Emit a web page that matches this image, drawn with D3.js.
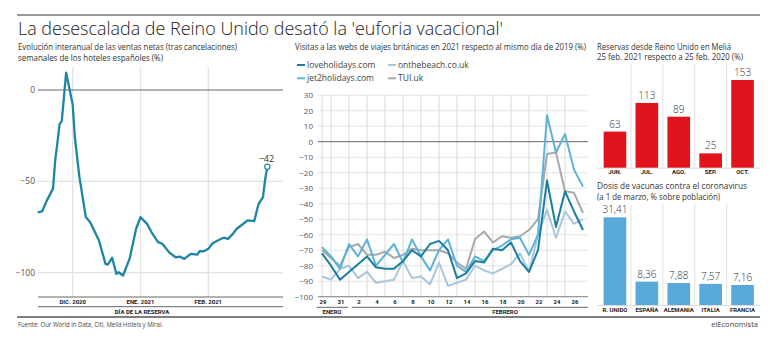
<!DOCTYPE html>
<html>
<head>
<meta charset="utf-8">
<script src="https://cdn.jsdelivr.net/npm/d3@7/dist/d3.min.js"></script>
<style>
body { margin: 0; background: #fff; }
text { font-family: "Open Sans", sans-serif; fill: #333; }
.tick-b { font-family: Roboto, sans-serif; font-weight: 700; font-size: 6px; fill: #222; }
</style>
</head>
<body>
<script>
// ---- data ----
var salesDates = ["2020-11-15","2020-11-17","2020-11-19","2020-11-22","2020-11-23","2020-11-24","2020-11-25","2020-11-26","2020-11-28",
    "2020-12-01","2020-12-02","2020-12-04","2020-12-07","2020-12-09","2020-12-13","2020-12-16","2020-12-17","2020-12-19","2020-12-21",
    "2020-12-22","2020-12-24","2020-12-27","2020-12-30","2021-01-01","2021-01-04","2021-01-06","2021-01-09","2021-01-11","2021-01-14",
    "2021-01-17","2021-01-19","2021-01-21","2021-01-24","2021-01-27","2021-01-28","2021-01-30","2021-02-01","2021-02-03","2021-02-06",
    "2021-02-08","2021-02-10","2021-02-12","2021-02-14","2021-02-16","2021-02-19","2021-02-22","2021-02-24","2021-02-26","2021-02-27","2021-02-28"];
var salesValues = [-67,-66.5,-61,-54,-38.5,-29,-18.7,-17,9.5,
    -8,-26,-47,-69.6,-72.4,-82.4,-95.2,-95.6,-91.9,-100.7,
    -99.8,-101.6,-92.5,-76,-69.6,-73.3,-77.8,-83.3,-84.2,-88.8,
    -91.6,-91.2,-92.5,-89.7,-90.1,-88.3,-88.3,-87,-83.9,-82,
    -80.9,-81.5,-79.1,-76,-74.2,-71.4,-71.8,-62.3,-58.6,-49,-42];
var salesMonths = ["2020-12-01","2021-01-01","2021-02-01"];
var salesMonthLabels = ["DIC. 2020","ENE. 2021","FEB. 2021"];
var salesTicks = [0,-50,-100];

var visitDays = ["2021-01-29","2021-01-30","2021-01-31","2021-02-01","2021-02-02","2021-02-03","2021-02-04","2021-02-05","2021-02-06","2021-02-07",
    "2021-02-08","2021-02-09","2021-02-10","2021-02-11","2021-02-12","2021-02-13","2021-02-14","2021-02-15","2021-02-16","2021-02-17",
    "2021-02-18","2021-02-19","2021-02-20","2021-02-21","2021-02-22","2021-02-23","2021-02-24","2021-02-25","2021-02-26","2021-02-27"];
var loveholidays = [-72,-80,-89,-84,-79,-74,-81,-82,-82,-77,-70,-74,-66,-64,-70,-88,-85,-77,-78,-69,-70,-65,-77,-84,-70,-25,-55,-32,-45,-57];
var jet2holidays = [-68,-74,-82,-66,-74,-63,-80,-73,-66,-78,-63,-74,-83,-70,-63,-80,-84,-74,-77,-70,-67,-63,-62,-73,-60,17,-7,5,-18,-29];
var onthebeach = [-87,-89,-82,-80,-88,-84,-91,-90,-89,-77,-88,-87,-92,-78,-93,-91,-89,-80,-83,-85,-82,-79,-72,-84,-60,-44,-62,-45,-53,-50];
var tui = [-70,-75,-80,-68,-66,-73,-73,-71,-75,-73,-69,-70,-70,-70,-72,-78,-82,-63,-58,-65,-61,-62,-61,-57,-50,-8,-7,-32,-33,-46];
var visitTickDays = ["2021-01-29","2021-01-31","2021-02-02","2021-02-04","2021-02-06","2021-02-08","2021-02-10","2021-02-12",
    "2021-02-14","2021-02-16","2021-02-18","2021-02-20","2021-02-22","2021-02-24","2021-02-26"];
var visitGridDays = ["2021-01-29","2021-01-30","2021-02-01","2021-02-03","2021-02-05","2021-02-07","2021-02-09","2021-02-11",
    "2021-02-13","2021-02-15","2021-02-17","2021-02-19","2021-02-21","2021-02-23","2021-02-25"];
var visitTicks = [30,20,10,0,-10,-20,-30,-40,-50,-60,-70,-80,-90,-100];

var reservasCats = ["JUN.","JUL.","AGO.","SEP.","OCT."];
var reservasValues = [63,113,89,25,153];
var vacunasCats = ["R. UNIDO","ESPAÑA","ALEMANIA","ITALIA","FRANCIA"];
var vacunasValues = [31.41,8.36,7.88,7.57,7.16];

var parse = d3.timeParse("%Y-%m-%d");
var minus = function (v) { return v < 0 ? "\u2212" + Math.abs(v) : String(v); };

var svg = d3.select("body").append("svg")
    .attr("width", 770)
    .attr("height", 343);

// ---- header / footer ----
svg.append("line").attr("x1", 17).attr("x2", 760).attr("y1", 15).attr("y2", 15)
    .attr("stroke", "#333").attr("stroke-width", 1);
svg.append("text").attr("x", 18).attr("y", 35)
    .attr("textLength", 485).attr("lengthAdjust", "spacingAndGlyphs")
    .style("font-size", "19px").style("font-weight", 300).style("fill", "#222")
    .text("La desescalada de Reino Unido desató la 'euforia vacacional'");

svg.append("line").attr("x1", 17).attr("x2", 760).attr("y1", 317).attr("y2", 317)
    .attr("stroke", "#555").attr("stroke-width", 1.3);
svg.append("text").attr("x", 18).attr("y", 326.5)
    .attr("textLength", 145).attr("lengthAdjust", "spacingAndGlyphs")
    .style("font-size", "7px").style("fill", "#444")
    .text("Fuente: Our World in Data, Citi, Meliá Hotels y Mirai.");
svg.append("text").attr("x", 758).attr("y", 326.5).attr("text-anchor", "end")
    .style("font-size", "7.5px").style("fill", "#444")
    .text("elEconomista");

function subtitle(x, y, txt, len) {
    svg.append("text").attr("x", x).attr("y", y)
        .attr("textLength", len).attr("lengthAdjust", "spacingAndGlyphs")
        .style("font-size", "8.2px").style("fill", "#333")
        .text(txt);
}

// ---- left chart ----
subtitle(18, 50, "Evolución interanual de las ventas netas (tras cancelaciones)", 219);
subtitle(18, 60.5, "semanales de los hoteles españoles (%)", 145);

var xL = d3.scaleTime().domain([parse("2020-12-01"), parse("2021-02-01")]).range([72.7, 208.3]);
var yL = d3.scaleLinear().domain([0, -100]).range([90, 272.6]);

var left = svg.append("g");
left.selectAll(".vg").data(salesMonths).enter().append("line")
    .attr("x1", function (d) { return xL(parse(d)); })
    .attr("x2", function (d) { return xL(parse(d)); })
    .attr("y1", 67).attr("y2", 297)
    .attr("stroke", "#e2e2e2").attr("stroke-width", 1.2);
left.selectAll(".hg").data(salesTicks).enter().append("line")
    .attr("x1", 38).attr("x2", 283)
    .attr("y1", function (d) { return yL(d); })
    .attr("y2", function (d) { return yL(d); })
    .attr("stroke", function (d) { return d === 0 ? "#666" : "#e2e2e2"; })
    .attr("stroke-width", function (d) { return d === 0 ? 1 : 1.2; });
left.selectAll(".yl").data(salesTicks).enter().append("text")
    .attr("x", 35).attr("y", function (d) { return yL(d); })
    .attr("dy", "0.35em").attr("text-anchor", "end")
    .style("font-size", "8.5px").style("fill", "#555")
    .text(minus);
left.append("line").attr("x1", 38).attr("x2", 283).attr("y1", 297).attr("y2", 297).attr("stroke", "#666");
left.append("line").attr("x1", 38).attr("x2", 283).attr("y1", 306.7).attr("y2", 306.7).attr("stroke", "#666");
left.selectAll(".ml").data(salesMonths).enter().append("text")
    .attr("class", "tick-b")
    .attr("x", function (d) { return xL(parse(d)); })
    .attr("y", 304.2).attr("text-anchor", "middle")
    .text(function (d, i) { return salesMonthLabels[i]; });
left.append("text").attr("class", "tick-b").attr("x", 142).attr("y", 314)
    .attr("text-anchor", "middle").text("DÍA DE LA RESERVA");

var salesData = salesDates.map(function (d, i) { return { date: parse(d), value: salesValues[i] }; });
left.append("path").datum(salesData)
    .attr("fill", "none").attr("stroke", "#1d86a4").attr("stroke-width", 2.3)
    .attr("stroke-linejoin", "round")
    .attr("d", d3.line()
        .x(function (d) { return xL(d.date); })
        .y(function (d) { return yL(d.value); }));
var lastSale = salesData[salesData.length - 1];
left.append("circle").attr("cx", xL(lastSale.date)).attr("cy", yL(lastSale.value)).attr("r", 2.6)
    .attr("fill", "#fff").attr("stroke", "#1d86a4").attr("stroke-width", 1.2);
left.append("text").attr("x", xL(lastSale.date) - 1).attr("y", yL(lastSale.value) - 5)
    .attr("text-anchor", "middle").style("font-size", "9px").style("fill", "#333")
    .text(minus(lastSale.value));

// ---- middle chart ----
subtitle(295, 50, "Visitas a las webs de viajes británicas en 2021 respecto al mismo día de 2019 (%)", 291);

var xM = d3.scaleTime().domain([parse("2021-01-29"), parse("2021-02-27")]).range([322, 583]);
var yM = d3.scaleLinear().domain([0, -100]).range([141.7, 296.7]);
var mid = svg.append("g");

mid.selectAll(".vg").data(visitGridDays).enter().append("line")
    .attr("x1", function (d) { return xM(parse(d)); })
    .attr("x2", function (d) { return xM(parse(d)); })
    .attr("y1", yM(30)).attr("y2", 297)
    .attr("stroke", "#e4e4e4").attr("stroke-width", 1.4);
mid.selectAll(".hg").data(visitTicks).enter().append("line")
    .attr("x1", 318).attr("x2", 588)
    .attr("y1", function (d) { return yM(d); })
    .attr("y2", function (d) { return yM(d); })
    .attr("stroke", function (d) { return d === 0 ? "#666" : (d === -100 ? "#777" : "#e4e4e4"); })
    .attr("stroke-width", function (d) { return d === 0 ? 1 : 1.1; });
mid.selectAll(".yl").data(visitTicks).enter().append("text")
    .attr("x", 313).attr("y", function (d) { return yM(d); })
    .attr("dy", "0.35em").attr("text-anchor", "end")
    .style("font-size", "8px").style("fill", "#555")
    .text(minus);
mid.selectAll(".xl").data(visitTickDays).enter().append("text")
    .attr("class", "tick-b")
    .attr("x", function (d) { return xM(parse(d)) + 1; })
    .attr("y", 304.2).attr("text-anchor", "middle")
    .text(function (d) { return +d.slice(8); });
mid.append("line").attr("x1", 316.7).attr("x2", 348.3).attr("y1", 307.3).attr("y2", 307.3).attr("stroke", "#666");
mid.append("line").attr("x1", 351.7).attr("x2", 588).attr("y1", 307.3).attr("y2", 307.3).attr("stroke", "#666");
mid.append("text").attr("class", "tick-b").attr("x", 332).attr("y", 314).attr("text-anchor", "middle").text("ENERO");
mid.append("text").attr("class", "tick-b").attr("x", 505).attr("y", 314).attr("text-anchor", "middle").text("FEBRERO");

var series = [
    { name: "onthebeach.co.uk", values: onthebeach, color: "#a9c7da", col: 1, row: 0 },
    { name: "TUI.uk", values: tui, color: "#a8a8a8", col: 1, row: 1 },
    { name: "jet2holidays.com", values: jet2holidays, color: "#5db2da", col: 0, row: 1 },
    { name: "loveholidays.com", values: loveholidays, color: "#1a7f9f", col: 0, row: 0 }
];
var lineM = d3.line()
    .x(function (d, i) { return xM(parse(visitDays[i])); })
    .y(function (d) { return yM(d); });
mid.selectAll(".series").data(series).enter().append("path")
    .attr("fill", "none")
    .attr("stroke", function (d) { return d.color; })
    .attr("stroke-width", 2)
    .attr("stroke-linejoin", "round")
    .attr("d", function (d) { return lineM(d.values); });

var legend = mid.selectAll(".leg").data(series).enter().append("g")
    .attr("transform", function (d) { return "translate(" + (297 + d.col * 91) + "," + (65 + d.row * 13.3) + ")"; });
legend.append("line").attr("x1", 0).attr("x2", 8).attr("y1", 0).attr("y2", 0)
    .attr("stroke", function (d) { return d.color; }).attr("stroke-width", 2);
legend.append("text").attr("x", 10).attr("dy", "0.35em")
    .style("font-size", "8.5px").style("fill", "#444")
    .text(function (d) { return d.name; });

// ---- right charts ----
var fmtEs = d3.formatLocale({ decimal: ",", thousands: ".", grouping: [3], currency: ["", "€"] }).format(".2f");

function barPanel(cats, values, y0, y1, maxV, color, fmt, gridTop, labelY) {
    var x = d3.scaleBand().domain(cats).range([599, 758.5]).paddingInner(0.29).paddingOuter(0.145);
    var y = d3.scaleLinear().domain([0, maxV]).range([y0, y1]);
    var g = svg.append("g");
    var step = x.step();
    g.selectAll(".vg").data(cats.slice(1)).enter().append("line")
        .attr("x1", function (d) { return x(d) - step * 0.145; })
        .attr("x2", function (d) { return x(d) - step * 0.145; })
        .attr("y1", gridTop).attr("y2", y0)
        .attr("stroke", "#e6e6e6").attr("stroke-width", 1.2);
    g.append("line").attr("x1", 597).attr("x2", 760).attr("y1", y0 + 0.5).attr("y2", y0 + 0.5)
        .attr("stroke", "#ddd");
    g.selectAll("rect").data(values).enter().append("rect")
        .attr("x", function (d, i) { return x(cats[i]); })
        .attr("width", x.bandwidth())
        .attr("y", function (d) { return y(d); })
        .attr("height", function (d) { return y0 - y(d); })
        .attr("fill", color);
    g.selectAll(".val").data(values).enter().append("text")
        .attr("x", function (d, i) { return x(cats[i]) + x.bandwidth() / 2; })
        .attr("y", function (d) { return y(d) - 4; })
        .attr("text-anchor", "middle")
        .style("font-size", "10px").style("font-weight", 300).style("fill", "#333")
        .text(fmt);
    g.selectAll(".cat").data(cats).enter().append("text")
        .attr("class", "tick-b")
        .attr("x", function (d) { return x(d) + x.bandwidth() / 2; })
        .attr("y", labelY).attr("text-anchor", "middle")
        .text(function (d) { return d; });
}

subtitle(597, 49.5, "Reservas desde Reino Unido en Meliá", 134);
subtitle(597, 60, "25 feb. 2021 respecto a 25 feb. 2020 (%)", 146);
barPanel(reservasCats, reservasValues, 167.7, 80, 153, "#e1131c", function (d) { return d; }, 64, 173.8);

subtitle(597, 189, "Dosis de vacunas contra el coronavirus", 150);
subtitle(597, 199.5, "(a 1 de marzo, % sobre población)", 123);
barPanel(vacunasCats, vacunasValues, 305, 217.3, 31.41, "#5aa9db", fmtEs, 204, 312);
</script>
</body>
</html>
